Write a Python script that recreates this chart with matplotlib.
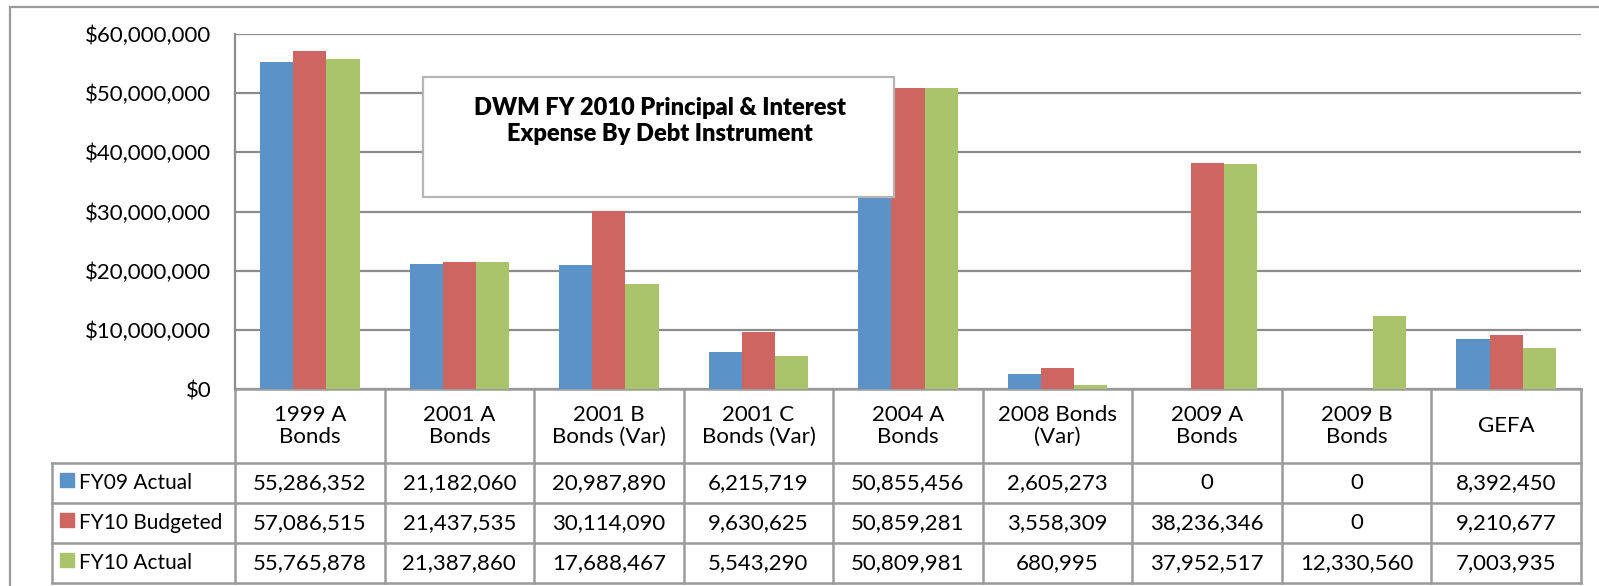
import numpy as np
import matplotlib
matplotlib.use("Agg")
import matplotlib.pyplot as plt
from matplotlib.patches import Rectangle
from matplotlib.transforms import blended_transform_factory

plt.rcParams["font.family"] = ["Lato", "DejaVu Sans"]

categories = ["1999 A\nBonds", "2001 A\nBonds", "2001 B\nBonds (Var)", "2001 C\nBonds (Var)",
              "2004 A\nBonds", "2008 Bonds\n(Var)", "2009 A\nBonds", "2009 B\nBonds", "GEFA"]
fy09_actual = [55286352, 21182060, 20987890, 6215719, 50855456, 2605273, 0, 0, 8392450]
fy10_budgeted = [57086515, 21437535, 30114090, 9630625, 50859281, 3558309, 38236346, 0, 9210677]
fy10_actual = [55765878, 21387860, 17688467, 5543290, 50809981, 680995, 37952517, 12330560, 7003935]
series_names = ["FY09 Actual", "FY10 Budgeted", "FY10 Actual"]
colors = ["#5B93C8", "#CD6560", "#A9C46A"]
title = "DWM FY 2010 Principal & Interest\nExpense By Debt Instrument"

FS = 16
W, H = 1599, 586
fig = plt.figure(figsize=(W / 100, H / 100), dpi=100)
fig.patch.set_facecolor("white")

# chart border (clipped on right/bottom like the source screenshot)
fig.patches.append(Rectangle((10 / W, 1 - 600 / H), 1610 / W, 593 / H, transform=fig.transFigure,
                             fill=False, edgecolor="#9a9a9a", lw=1.6))

ax = fig.add_axes([235 / W, 1 - 389 / H, 1346 / W, 355 / H])
n = len(categories)
x = np.arange(n)
bw = 0.222
grid_c = "#8c8c8c"
for i, (vals, c) in enumerate(zip([fy09_actual, fy10_budgeted, fy10_actual], colors)):
    ax.bar(x + (i - 1) * bw, vals, width=bw, color=c, zorder=3)

ax.set_xlim(-0.5, n - 0.5)
ax.set_ylim(0, 60_000_000)
ax.set_yticks(np.arange(0, 60_000_001, 10_000_000))
ax.set_yticklabels([f"${v:,.0f}" for v in ax.get_yticks()], fontsize=FS)
ax.tick_params(axis="y", length=0, pad=17)
ax.set_xticks([])
ax.grid(axis="y", color=grid_c, lw=1.6, zorder=0)
for s in ["top", "right", "bottom"]:
    ax.spines[s].set_visible(False)
ax.spines["left"].set_color(grid_c)
ax.spines["left"].set_linewidth(1.6)

# data table under the plot
tr = blended_transform_factory(ax.transData, ax.transAxes)
px = 1 / 355.0
y_hdr = -74 * px
row_h = 40 * px
y_rows = [y_hdr - k * row_h for k in range(4)]
leg_left = -0.5 - 183 / (1346 / n)
line_kw = dict(color="#9a9a9a", lw=1.8, transform=tr, clip_on=False)

# horizontal lines
ax.plot([-0.5, n - 0.5], [0, 0], **line_kw)
for yy in y_rows:
    ax.plot([leg_left, n - 0.5], [yy, yy], **line_kw)
# vertical lines
for k in range(n + 1):
    ax.plot([k - 0.5, k - 0.5], [0, y_rows[-1]], **line_kw)
ax.plot([leg_left, leg_left], [y_hdr, y_rows[-1]], **line_kw)

for k, cat in enumerate(categories):
    ax.text(k, y_hdr / 2, cat, transform=tr, ha="center", va="center", fontsize=FS,
            linespacing=1.15, clip_on=False)

for r, (name, vals, c) in enumerate(zip(series_names, [fy09_actual, fy10_budgeted, fy10_actual], colors)):
    yc = y_rows[r] - row_h / 2
    for k, v in enumerate(vals):
        ax.text(k, yc, f"{v:,}", transform=tr, ha="center", va="center", fontsize=FS, clip_on=False)
    ax.add_patch(Rectangle((leg_left + 8 / 149.6, yc - 7 * px + 3 * px), 14 / 149.6, 14 * px,
                           transform=tr, color=c, clip_on=False))
    ax.text(leg_left + 27 / 149.6, yc, name, transform=tr, ha="left", va="center",
            fontsize=15, clip_on=False)

# title box
fig.patches.append(Rectangle((423 / W, 1 - 197 / H), 471 / W, 120 / H, transform=fig.transFigure,
                             facecolor="white", edgecolor="#b5b5b5", lw=1.6, zorder=5))
t = fig.text(660 / W, 1 - 121 / H, title, ha="center", va="center", fontsize=17, fontweight="heavy",
             linespacing=1.2)
t.set_zorder(6)

fig.savefig("out.png", dpi=100)
